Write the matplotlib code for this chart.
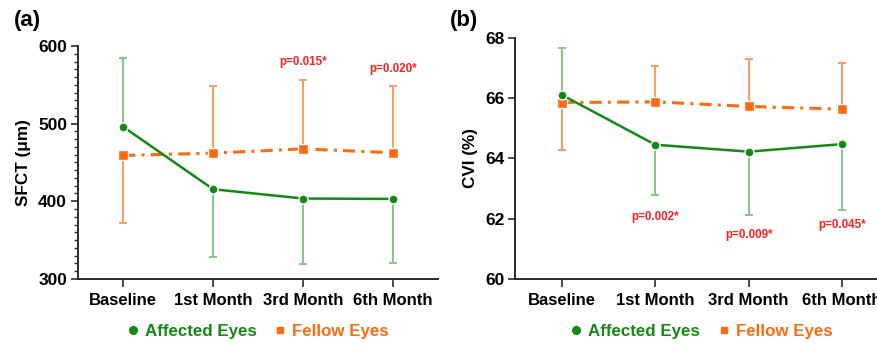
import matplotlib.pyplot as plt
import numpy as np
from matplotlib.lines import Line2D
from matplotlib.ticker import MultipleLocator

plt.rcParams['font.family'] = ['Liberation Sans', 'DejaVu Sans']
plt.rcParams['font.weight'] = 'bold'

categories = ['Baseline', '1st Month', '3rd Month', '6th Month']

# SFCT (um): means and the end of the (one-sided) error bar
sfct_affected = [496, 415.5, 403.5, 403]
sfct_affected_end = [584, 328, 319, 321]
sfct_fellow = [459, 462, 467.5, 462.5]
sfct_fellow_end = [372, 548, 556, 548]
sfct_p_idx = [2, 3]
sfct_p_text = ['p=0.015*', 'p=0.020*']
sfct_p_y = [580, 571]

# CVI (%)
cvi_affected = [66.1, 64.45, 64.22, 64.47]
cvi_affected_end = [67.65, 62.78, 62.13, 62.28]
cvi_fellow = [65.85, 65.87, 65.72, 65.63]
cvi_fellow_end = [64.27, 67.07, 67.3, 67.15]
cvi_p_idx = [1, 2, 3]
cvi_p_text = ['p=0.002*', 'p=0.009*', 'p=0.045*']
cvi_p_y = [62.05, 61.45, 61.78]

green = '#138a13'
green_light = '#86c686'
orange = '#ff6a10'
orange_light = '#ff9a5c'
red = '#ff1f1f'
spine_col = '#2b2b2b'


def one_sided(vals, ends):
    vals = np.array(vals)
    ends = np.array(ends)
    lo = np.clip(vals - ends, 0, None)
    hi = np.clip(ends - vals, 0, None)
    return [lo, hi]


def draw_panel(ax, aff, aff_end, fel, fel_end, ylabel, ylim, major, minor,
               p_idx, p_text, p_y, leg_y):
    x = np.arange(len(categories))
    ax.errorbar(x, aff, yerr=one_sided(aff, aff_end), fmt='none',
                ecolor=green_light, elinewidth=1.4, capsize=2.8, capthick=1.4, zorder=2)
    ax.errorbar(x, fel, yerr=one_sided(fel, fel_end), fmt='none',
                ecolor=orange_light, elinewidth=1.4, capsize=2.8, capthick=1.4, zorder=2)
    ax.plot(x, fel, color=orange, lw=2.2, dashes=(4, 2, 1, 2), marker='s', ms=6.5,
            mfc=orange, mec='white', mew=1.0, zorder=3)
    ax.plot(x, aff, color=green, lw=1.8, marker='o', ms=6.5,
            mfc=green, mec='white', mew=1.0, zorder=4)

    for i, t, yy in zip(p_idx, p_text, p_y):
        ax.text(i, yy, t, color=red, fontsize=8.4, fontweight='bold',
                ha='center', va='center')

    ax.set_xlim(-0.5, len(categories) - 0.5)
    ax.set_ylim(*ylim)
    ax.set_xticks(x)
    ax.set_xticklabels(categories, fontsize=12, fontweight='bold')
    ax.yaxis.set_major_locator(MultipleLocator(major))
    if minor:
        ax.yaxis.set_minor_locator(MultipleLocator(minor))
    for lab in ax.get_yticklabels():
        lab.set_fontweight('bold')
        lab.set_fontsize(12.5)
    ax.set_ylabel(ylabel, fontsize=12.3, fontweight='bold', labelpad=5)
    ax.spines['top'].set_visible(False)
    ax.spines['right'].set_visible(False)
    for s in ['left', 'bottom']:
        ax.spines[s].set_linewidth(1.4)
        ax.spines[s].set_color(spine_col)
    ax.tick_params(axis='both', which='major', length=5, width=1.2, color=spine_col, pad=3)
    ax.tick_params(axis='x', which='major', length=6, pad=4)
    ax.tick_params(axis='y', which='minor', length=3, width=1.0, color=spine_col)

    handles = [
        Line2D([], [], color=green, marker='o', ls='none', ms=5.5),
        Line2D([], [], color=orange, marker='s', ls='none', ms=5),
    ]
    leg = ax.legend(handles, ['Affected Eyes', 'Fellow Eyes'], loc='center',
                    bbox_to_anchor=(0.5, leg_y), ncol=2, frameon=False,
                    handlelength=0.6, handletextpad=0.4, columnspacing=1.1,
                    prop={'weight': 'bold', 'size': 12.2})
    for txt, c in zip(leg.get_texts(), [green, orange]):
        txt.set_color(c)


fig = plt.figure(figsize=(8.78, 3.46), dpi=100)
ax1 = fig.add_axes([0.089, 0.194, 0.410, 0.673])
ax2 = fig.add_axes([0.587, 0.194, 0.425, 0.697])

draw_panel(ax1, sfct_affected, sfct_affected_end, sfct_fellow, sfct_fellow_end,
           'SFCT (μm)', (300, 600), 100, 10, sfct_p_idx, sfct_p_text, sfct_p_y, -0.225)
draw_panel(ax2, cvi_affected, cvi_affected_end, cvi_fellow, cvi_fellow_end,
           'CVI (%)', (60, 68), 2, None, cvi_p_idx, cvi_p_text, cvi_p_y, -0.218)

fig.text(0.016, 0.942, '(a)', fontsize=16, fontweight='bold', va='center')
fig.text(0.512, 0.942, '(b)', fontsize=16, fontweight='bold', va='center')

fig.savefig('out.png', dpi=100)
